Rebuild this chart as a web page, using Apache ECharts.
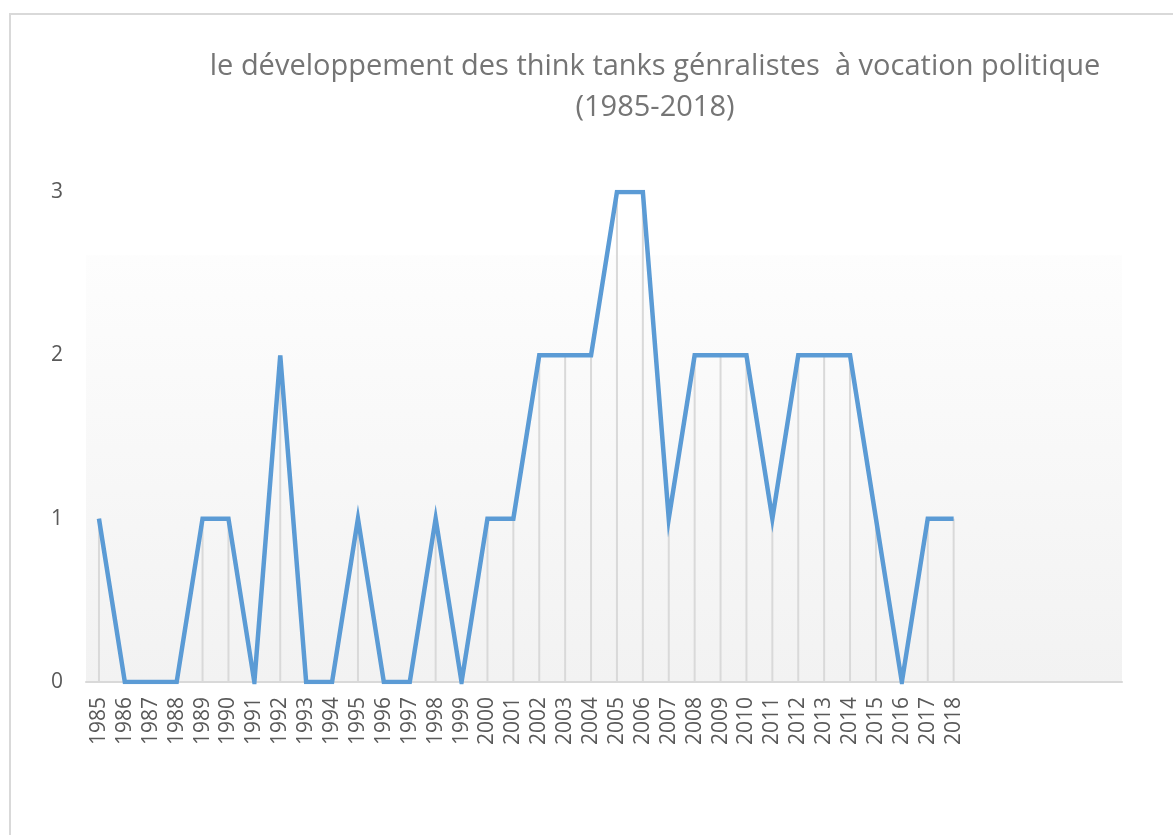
<!DOCTYPE html>
<html>
<head>
<meta charset="utf-8">
<script src="https://cdn.jsdelivr.net/npm/echarts@6/dist/echarts.min.js"></script>
<style>
  html, body { margin: 0; padding: 0; background: #fff; overflow: hidden; }
  .frame {
    position: absolute; left: 9px; top: 13px;
    width: 1200px; height: 840px;
    border: 2px solid #d9d9d9; box-sizing: border-box;
  }
  #chart { position: absolute; left: 0; top: 0; width: 1173px; height: 835px; }
</style>
</head>
<body>
<div class="frame"></div>
<div id="chart"></div>
<script>
// années affichées + catégories vides à droite (comme dans le graphique Excel)
const years = ['1985', '1986', '1987', '1988', '1989', '1990', '1991', '1992', '1993', '1994',
  '1995', '1996', '1997', '1998', '1999', '2000', '2001', '2002', '2003', '2004',
  '2005', '2006', '2007', '2008', '2009', '2010', '2011', '2012', '2013', '2014',
  '2015', '2016', '2017', '2018']
const emptySlots = ['', '', '', '', '', '']
const counts = [1, 0, 0, 0, 1, 1, 0, 2, 0, 0,
  1, 0, 0, 1, 0, 1, 1, 2, 2, 2,
  3, 3, 1, 2, 2, 2, 1, 2, 2, 2,
  1, 0, 1, 1]
const yTicks = [0, 1, 2, 3]

const categories = years.concat(emptySlots)

const chart = echarts.init(document.getElementById('chart'))
chart.setOption({
  animation: false,
  title: {
    text: 'le développement des think tanks génralistes  à vocation politique\n(1985-2018)',
    left: 650,
    top: 41,
    textAlign: 'center',
    textStyle: {
      fontFamily: 'Open Sans',
      fontWeight: 'normal',
      fontSize: 29,
      lineHeight: 41,
      color: '#757575',
    },
  },
  grid: {
    left: 86,
    right: 51,
    top: 192,
    bottom: 153,
    show: true,
    borderWidth: 0,
    backgroundColor: {
      type: 'linear', x: 0, y: 0, x2: 0, y2: 1,
      colorStops: [
        { offset: 0, color: '#ffffff' },
        { offset: 0.128, color: '#ffffff' },
        { offset: 0.13, color: '#fdfdfd' },
        { offset: 1, color: '#f2f2f2' },
      ],
    },
  },
  xAxis: {
    type: 'category',
    data: categories,
    boundaryGap: true,
    axisLine: { lineStyle: { color: '#d9d9d9', width: 2 } },
    axisTick: { show: false },
    axisLabel: {
      interval: 0,
      rotate: 90,
      margin: 15,
      fontFamily: 'Open Sans',
      fontSize: 21,
      color: '#595959',
    },
  },
  yAxis: {
    type: 'value',
    min: yTicks[0],
    max: yTicks[yTicks.length - 1],
    interval: 1,
    axisLine: { show: false },
    axisTick: { show: false },
    splitLine: { show: false },
    axisLabel: {
      margin: 23,
      fontFamily: 'Open Sans',
      fontSize: 21,
      color: '#595959',
    },
  },
  series: [
    {
      // lignes de projection verticales
      type: 'bar',
      data: counts,
      barWidth: 2,
      itemStyle: { color: '#d9d9d9' },
      z: 1,
      silent: true,
    },
    {
      type: 'line',
      data: counts,
      symbol: 'none',
      lineStyle: { color: '#5b9bd5', width: 4.5, join: 'miter' },
      z: 3,
    },
  ],
})
</script>
</body>
</html>
